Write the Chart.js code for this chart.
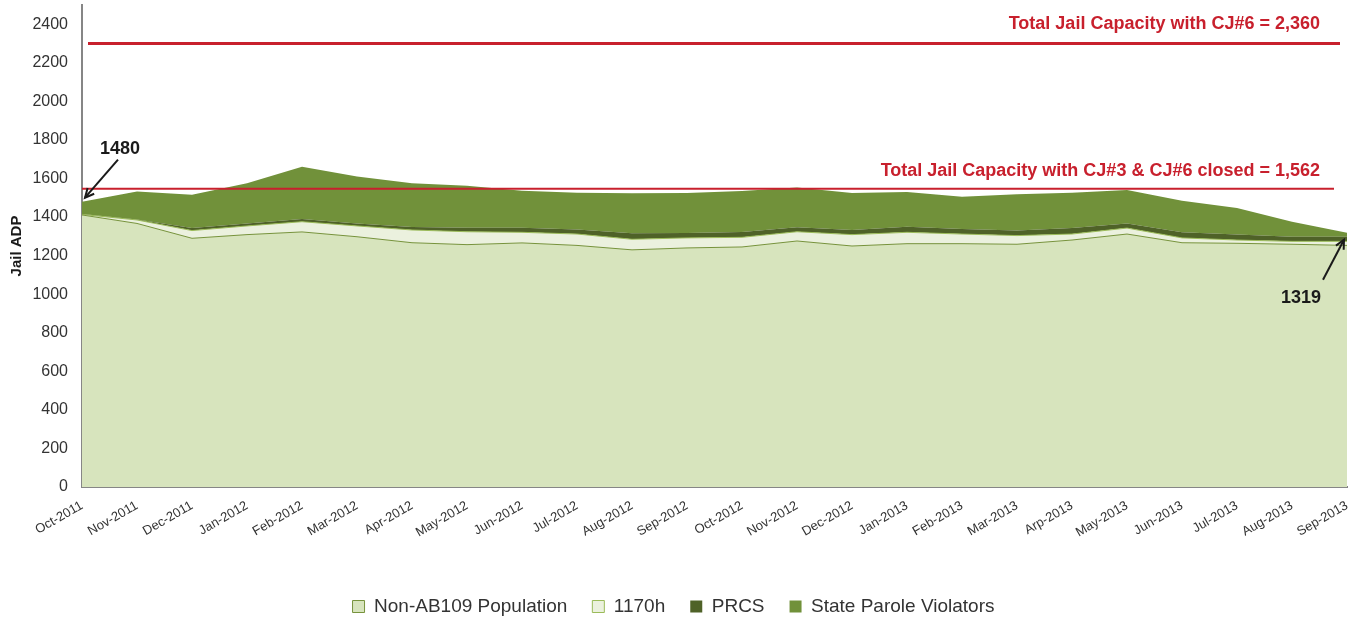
<!DOCTYPE html>
<html>
<head>
<meta charset="utf-8">
<script src="https://cdn.jsdelivr.net/npm/chart.js@4"></script>
<style>
  html, body { margin: 0; padding: 0; background: #fff; }
  #wrap { width: 1361px; height: 620px; }
</style>
</head>
<body>
<div id="wrap"><canvas id="myChart"></canvas></div>
<script>
const months = ['Oct-2011','Nov-2011','Dec-2011','Jan-2012','Feb-2012','Mar-2012','Apr-2012','May-2012','Jun-2012','Jul-2012','Aug-2012','Sep-2012',
  'Oct-2012','Nov-2012','Dec-2012','Jan-2013','Feb-2013','Mar-2013','Arp-2013','May-2013','Jun-2013','Jul-2013','Aug-2013','Sep-2013'];

const nonAB109 = [1411,1367,1290,1309,1323,1298,1267,1257,1266,1253,1230,1240,1245,1276,1250,1262,1262,1259,1281,1312,1267,1264,1259,1253];
const h1170 = [3,18,40,45,53,56,66,67,55,59,55,52,50,48,59,59,50,45,31,31,25,17,15,21];
const prcs = [2,3,13,13,14,13,16,21,24,23,31,26,28,23,24,29,26,26,31,24,29,28,24,24];
const paroleViolators = [64,145,173,209,271,243,227,217,191,191,207,207,212,207,192,180,167,188,183,173,164,138,78,21];

const yTickValues = [0,200,400,600,800,1000,1200,1400,1600,1800,2000,2200,2400];

const capacityLines = [2300, 1547];
const capacityLabels = ['Total Jail Capacity with CJ#6 = 2,360', 'Total Jail Capacity with CJ#3 & CJ#6 closed = 1,562'];

const fontFam = '"Liberation Sans", Arial, sans-serif';
const ctx = document.getElementById('myChart');

const overlay = {
  id: 'overlay',
  afterDatasetsDraw(chart) {
    const c = chart.ctx, y = chart.scales.y, x = chart.scales.x, a = chart.chartArea;
    c.save();
    // capacity lines
    c.strokeStyle = '#c8202d';
    c.lineWidth = 3;
    let y1 = y.getPixelForValue(capacityLines[0]);
    c.beginPath(); c.moveTo(a.left + 6, y1); c.lineTo(a.right - 7, y1); c.stroke();
    c.lineWidth = 2;
    let y2 = y.getPixelForValue(capacityLines[1]);
    c.beginPath(); c.moveTo(a.left, y2); c.lineTo(a.right - 13, y2); c.stroke();
    c.fillStyle = '#c8202d';
    c.font = 'bold 18px ' + fontFam;
    c.textAlign = 'right';
    c.textBaseline = 'alphabetic';
    c.fillText(capacityLabels[0], a.right - 27, y1 - 15);
    c.fillText(capacityLabels[1], a.right - 27, y2 - 13);

    // point annotations
    const tot = i => nonAB109[i] + h1170[i] + prcs[i] + paroleViolators[i];
    function arrow(fx, fy, tx, ty) {
      c.strokeStyle = '#1a1a1a'; c.lineWidth = 2;
      c.beginPath(); c.moveTo(fx, fy); c.lineTo(tx, ty); c.stroke();
      const ang = Math.atan2(ty - fy, tx - fx), L = 10;
      c.beginPath();
      c.moveTo(tx - L * Math.cos(ang - 0.45), ty - L * Math.sin(ang - 0.45));
      c.lineTo(tx, ty);
      c.lineTo(tx - L * Math.cos(ang + 0.45), ty - L * Math.sin(ang + 0.45));
      c.stroke();
    }
    c.fillStyle = '#1a1a1a';
    c.font = 'bold 18px ' + fontFam;
    c.textAlign = 'center';
    let px = x.getPixelForValue(0), py = y.getPixelForValue(tot(0));
    c.fillText(String(tot(0)), px + 38, py - 48);
    arrow(px + 36, py - 42, px + 3, py - 4);
    let last = months.length - 1;
    px = x.getPixelForValue(last); py = y.getPixelForValue(tot(last));
    c.fillText(String(tot(last)), px - 46, py + 70);
    arrow(px - 24, py + 47, px - 3, py + 7);
    c.restore();
  }
};

new Chart(ctx, {
  type: 'line',
  data: {
    labels: months,
    datasets: [
      { label: 'Non-AB109 Population', data: nonAB109, backgroundColor: '#d7e4bd', borderColor: '#77933c', borderWidth: 1, fill: 'origin', pointRadius: 0, tension: 0 },
      { label: '1170h', data: h1170, backgroundColor: '#ebf1de', borderColor: '#9bbb59', borderWidth: 1, fill: '-1', pointRadius: 0, tension: 0 },
      { label: 'PRCS', data: prcs, backgroundColor: '#4f6228', borderColor: '#4f6228', borderWidth: 0, fill: '-1', pointRadius: 0, tension: 0 },
      { label: 'State Parole Violators', data: paroleViolators, backgroundColor: '#71913a', borderColor: '#71913a', borderWidth: 0, fill: '-1', pointRadius: 0, tension: 0 }
    ]
  },
  options: {
    responsive: true,
    maintainAspectRatio: false,
    animation: false,
    layout: { padding: { top: 5, right: 14, left: 0, bottom: -6 } },
    plugins: {
      legend: {
        position: 'bottom',
        labels: { boxWidth: 12, boxHeight: 12, padding: 25, color: '#333', font: { size: 19, family: fontFam } }
      },
      tooltip: { enabled: false }
    },
    scales: {
      x: {
        grid: { display: false },
        border: { color: '#868686', width: 2 },
        ticks: { autoSkip: false, maxRotation: 30, minRotation: 30, color: '#333', font: { size: 13, family: fontFam } },
        afterFit: s => { s.height = 85; }
      },
      y: {
        stacked: true,
        min: 0, max: 2500,
        grid: { display: false },
        border: { color: '#868686', width: 2 },
        ticks: { padding: 6, color: '#333', font: { size: 16, family: fontFam }, callback: v => String(v) },
        afterBuildTicks: s => { s.ticks = yTickValues.map(v => ({ value: v })); },
        title: { display: true, text: 'Jail ADP', color: '#1a1a1a', font: { size: 15, weight: 'bold', family: fontFam }, padding: { top: 8, bottom: 4 } },
        afterFit: s => { s.width = 82; s.paddingTop = 0; s.paddingBottom = 0; }
      }
    }
  },
  plugins: [overlay]
});
</script>
</body>
</html>
